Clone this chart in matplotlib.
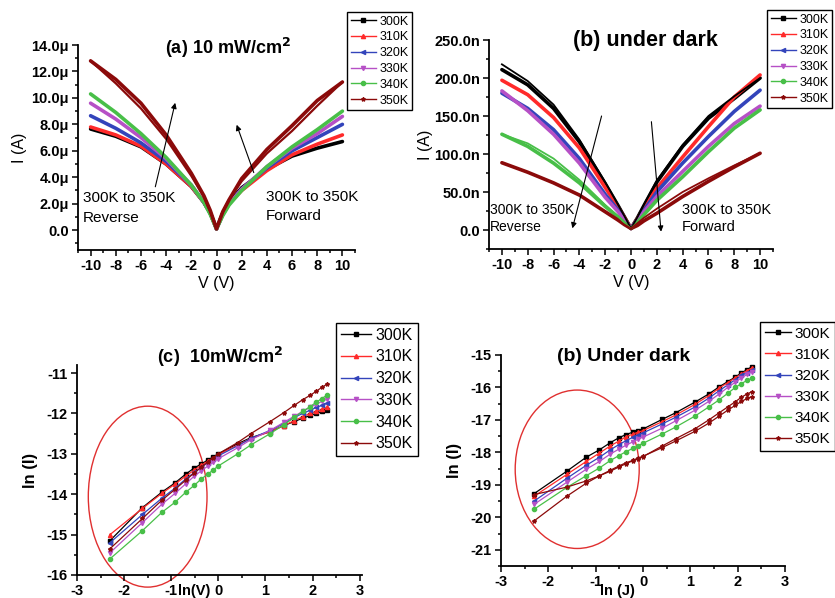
import matplotlib
matplotlib.use('Agg')
import matplotlib.pyplot as plt
from matplotlib.patches import Ellipse
from matplotlib.lines import Line2D
from matplotlib.ticker import MultipleLocator, FuncFormatter

plt.rcParams['font.family'] = ['Liberation Sans', 'DejaVu Sans']
plt.rcParams['font.weight'] = 'bold'
plt.rcParams['axes.unicode_minus'] = False

# ---------------- data ----------------
temps = ['300K', '310K', '320K', '330K', '340K', '350K']
colors = ['#000000', '#ff2a2a', '#3344bb', '#b650c6', '#48bf48', '#8b0a0a']
markers = ['s', '^', '<', 'v', 'o', '*']

V = [-10, -8, -6, -4, -2, -1, -0.5, 0, 0.5, 1, 2, 4, 6, 8, 10]

# (a) current under 10 mW/cm2, in microamps
Ia_300 = [7.65, 7.1, 6.3, 5.0, 3.3, 2.1, 1.3, 0.1, 1.3, 2.1, 3.2, 4.6, 5.6, 6.2, 6.7]
Ia_310 = [7.8, 7.2, 6.35, 5.0, 3.3, 2.1, 1.3, 0.1, 1.2, 2.0, 3.0, 4.5, 5.7, 6.5, 7.2]
Ia_320 = [8.65, 7.7, 6.6, 5.2, 3.4, 2.1, 1.3, 0.1, 1.2, 2.0, 3.1, 4.7, 6.0, 7.0, 8.0]
Ia_330 = [9.6, 8.4, 7.0, 5.4, 3.4, 2.1, 1.3, 0.1, 1.2, 2.0, 3.1, 4.8, 6.2, 7.3, 8.6]
Ia_340 = [10.3, 8.9, 7.3, 5.5, 3.4, 2.1, 1.2, 0.1, 1.1, 1.9, 3.0, 4.8, 6.3, 7.6, 9.0]
Ia_350 = [12.8, 11.4, 9.6, 7.2, 4.3, 2.6, 1.5, 0.1, 1.4, 2.3, 3.9, 6.1, 7.9, 9.8, 11.2]
Ia_350_ret = [12.8, 11.1, 9.2, 6.9, 4.1, 2.5, 1.4, 0.1, 1.4, 2.3, 3.7, 5.8, 7.5, 9.4, 11.2]

# (b) dark current, in nanoamps
Ib_300 = [211, 191, 160, 116, 61, 32, 17, 2, 16, 32, 63, 110, 147, 173, 200]
Ib_300_ret = [218, 196, 165, 119, 63, 33, 18, 2, 17, 33, 65, 112, 150, 176, 200]
Ib_310 = [197, 178, 148, 108, 56, 30, 16, 2, 15, 28, 55, 96, 136, 175, 204]
Ib_320 = [180, 160, 132, 94, 47, 26, 14, 2, 14, 26, 50, 88, 123, 156, 184]
Ib_330 = [183, 157, 126, 88, 43, 24, 13, 2, 12, 24, 44, 77, 110, 140, 163]
Ib_340 = [126, 110, 88, 62, 31, 17, 9, 2, 10, 20, 39, 70, 103, 134, 158]
Ib_340_ret = [126, 114, 94, 66, 33, 18, 9, 2, 10, 20, 39, 70, 103, 134, 158]
Ib_350 = [88.5, 76, 62, 46, 24, 13, 7, 2, 6, 12, 22, 44, 64, 83, 101]
Ib_350_ret = [88.5, 76, 62, 46, 24, 13, 7, 2, 9, 16, 28, 50, 68, 85, 101]

# (c), (d) log-log plots
lnV = [-2.30, -1.61, -1.20, -0.92, -0.69, -0.51, -0.36, -0.22, -0.11, 0.0,
       0.41, 0.69, 1.10, 1.39, 1.61, 1.79, 1.95, 2.08, 2.20, 2.30]

lnIc_300 = [-15.15, -14.33, -13.95, -13.72, -13.50, -13.35, -13.25, -13.15, -13.08, -13.00,
            -12.75, -12.60, -12.45, -12.30, -12.20, -12.12, -12.05, -12.00, -11.95, -11.92]
lnIc_310 = [-15.00, -14.35, -13.98, -13.75, -13.55, -13.40, -13.28, -13.18, -13.10, -13.02,
            -12.78, -12.62, -12.45, -12.30, -12.18, -12.08, -12.00, -11.95, -11.90, -11.85]
lnIc_320 = [-15.20, -14.50, -14.10, -13.85, -13.62, -13.46, -13.33, -13.22, -13.13, -13.05,
            -12.80, -12.62, -12.42, -12.25, -12.10, -12.00, -11.92, -11.85, -11.80, -11.75]
lnIc_330 = [-15.45, -14.70, -14.25, -13.98, -13.74, -13.55, -13.42, -13.30, -13.20, -13.12,
            -12.85, -12.65, -12.42, -12.22, -12.07, -11.95, -11.85, -11.77, -11.70, -11.65]
lnIc_340 = [-15.60, -14.90, -14.45, -14.20, -13.95, -13.78, -13.62, -13.50, -13.40, -13.30,
            -13.00, -12.78, -12.50, -12.28, -12.10, -11.95, -11.83, -11.72, -11.63, -11.55]
lnIc_350 = [-15.35, -14.60, -14.15, -13.88, -13.65, -13.47, -13.33, -13.20, -13.10, -13.00,
            -12.72, -12.50, -12.20, -11.98, -11.80, -11.66, -11.55, -11.45, -11.35, -11.28]

lnId_300 = [-19.27, -18.58, -18.15, -17.92, -17.70, -17.55, -17.45, -17.38, -17.33, -17.28,
            -16.98, -16.78, -16.45, -16.20, -15.98, -15.82, -15.68, -15.55, -15.45, -15.36]
lnId_310 = [-19.35, -18.68, -18.28, -18.02, -17.80, -17.65, -17.52, -17.44, -17.38, -17.33,
            -17.05, -16.85, -16.52, -16.25, -16.02, -15.85, -15.70, -15.58, -15.48, -15.40]
lnId_320 = [-19.50, -18.80, -18.40, -18.15, -17.92, -17.76, -17.64, -17.54, -17.47, -17.40,
            -17.12, -16.92, -16.60, -16.33, -16.10, -15.92, -15.76, -15.63, -15.54, -15.47]
lnId_330 = [-19.60, -18.92, -18.52, -18.28, -18.05, -17.90, -17.78, -17.68, -17.60, -17.53,
            -17.25, -17.03, -16.70, -16.43, -16.20, -16.00, -15.84, -15.70, -15.60, -15.52]
lnId_340 = [-19.75, -19.08, -18.72, -18.48, -18.25, -18.10, -17.98, -17.88, -17.80, -17.72,
            -17.43, -17.22, -16.88, -16.60, -16.38, -16.18, -16.00, -15.88, -15.78, -15.72]
lnId_350 = [-20.11, -19.35, -18.95, -18.72, -18.55, -18.42, -18.32, -18.25, -18.18, -18.12,
            -17.85, -17.65, -17.35, -17.10, -16.88, -16.70, -16.55, -16.43, -16.34, -16.28]
lnId_350_b = [-19.30, -19.07, -18.88, -18.72, -18.58, -18.45, -18.35, -18.26, -18.19, -18.13,
              -17.80, -17.58, -17.27, -17.00, -16.78, -16.60, -16.44, -16.30, -16.20, -16.13]

Ia = [Ia_300, Ia_310, Ia_320, Ia_330, Ia_340, Ia_350]
Ib = [Ib_300, Ib_310, Ib_320, Ib_330, Ib_340, Ib_350]
lnIc = [lnIc_300, lnIc_310, lnIc_320, lnIc_330, lnIc_340, lnIc_350]
lnId = [lnId_300, lnId_310, lnId_320, lnId_330, lnId_340, lnId_350]

W, H = 835, 598
fig = plt.figure(figsize=(W / 100, H / 100), dpi=100)


def rect(l, t, r, b):
    return [l / W, 1 - b / H, (r - l) / W, (b - t) / H]


def style(ax):
    for s in ['top', 'right']:
        ax.spines[s].set_visible(False)
    for s in ['left', 'bottom']:
        ax.spines[s].set_linewidth(1.3)
    ax.tick_params(which='both', direction='out', width=1.1, pad=2)
    ax.tick_params(which='major', length=4.5, labelsize=10.5)
    ax.tick_params(which='minor', length=2.5)


def handles(ms=3):
    return [Line2D([], [], color=c, marker=m, ms=ms, lw=1.0) for c, m in zip(colors, markers)]


def legend(ax, l, t, size, spacing, hl, tp=0.3):
    leg = ax.legend(handles(), temps, loc='upper left', bbox_to_anchor=(l / W, 1 - t / H),
                    bbox_transform=fig.transFigure, frameon=True, fancybox=False,
                    edgecolor='black', framealpha=1,
                    prop={'size': size, 'weight': 'normal'}, handlelength=hl,
                    handletextpad=tp, labelspacing=spacing, borderpad=0.3,
                    borderaxespad=0)
    leg.get_frame().set_linewidth(1.0)


arrow_kw = dict(arrowstyle='-|>', color='black', lw=0.8, mutation_scale=8,
                shrinkA=0, shrinkB=0)

# ---------------- (a) ----------------
axa = fig.add_axes(rect(78, 45, 355, 250))
for y, c in zip(Ia, colors):
    axa.plot(V, y, color=c, lw=2.6, solid_capstyle='round')
axa.plot(V, Ia_350_ret, color=colors[5], lw=1.6)
axa.set_xlim(-11, 11)
axa.set_ylim(-1.5, 14)
axa.xaxis.set_major_locator(MultipleLocator(2))
axa.xaxis.set_minor_locator(MultipleLocator(1))
axa.yaxis.set_major_locator(MultipleLocator(2))
axa.yaxis.set_minor_locator(MultipleLocator(1))
axa.yaxis.set_major_formatter(FuncFormatter(lambda v, p: '0.0' if abs(v) < 1e-9 else f'{v:.1f}\u03bc'))
axa.xaxis.set_major_formatter(FuncFormatter(lambda v, p: f'{v:.0f}'))
style(axa)
axa.set_xlabel('V (V)', fontsize=11.5, fontweight='normal', labelpad=2)
axa.set_ylabel('I (A)', fontsize=11.5, fontweight='normal', labelpad=3)
axa.set_title('(a) 10 mW/cm$^\\mathbf{2}$', fontsize=13, fontweight='bold', x=0.54, y=0.915)
axa.annotate('', xy=(-3.28, 9.63), xytext=(-4.86, 3.28), arrowprops=arrow_kw)
axa.annotate('', xy=(1.6, 7.97), xytext=(2.96, 4.35), arrowprops=arrow_kw)
axa.text(-10.6, 2.95, '300K to 350K\nReverse', fontsize=11, fontweight='normal',
         va='top', ha='left', linespacing=1.5)
axa.text(3.9, 3.05, '300K to 350K\nForward', fontsize=11, fontweight='normal',
         va='top', ha='left', linespacing=1.45)
legend(axa, 347, 12, 9, 0.3, 2.0)

# ---------------- (b) ----------------
axb = fig.add_axes(rect(489, 40, 773, 249))
for y, c in zip(Ib, colors):
    axb.plot(V, y, color=c, lw=2.6, solid_capstyle='round')
axb.plot(V, Ib_300_ret, color=colors[0], lw=1.3)
axb.plot(V, Ib_340_ret, color=colors[4], lw=1.3)
axb.plot(V, Ib_350_ret, color=colors[5], lw=1.3)
axb.set_xlim(-11, 11)
axb.set_ylim(-25, 250)
axb.xaxis.set_major_locator(MultipleLocator(2))
axb.xaxis.set_minor_locator(MultipleLocator(1))
axb.yaxis.set_major_locator(MultipleLocator(50))
axb.yaxis.set_minor_locator(MultipleLocator(25))
axb.yaxis.set_major_formatter(FuncFormatter(lambda v, p: '0.0' if abs(v) < 1e-9 else f'{v:.1f}n'))
axb.xaxis.set_major_formatter(FuncFormatter(lambda v, p: f'{v:.0f}'))
style(axb)
axb.set_xlabel('V (V)', fontsize=11.5, fontweight='normal', labelpad=2)
axb.set_ylabel('I (A)', fontsize=11.5, fontweight='normal', labelpad=1)
axb.set_title('(b) under dark', fontsize=15.5, fontweight='bold', x=0.55, y=0.93)
axb.annotate('', xy=(-4.54, 2.2), xytext=(-2.28, 150), arrowprops=arrow_kw)
axb.annotate('', xy=(2.33, -2.2), xytext=(1.58, 142.5), arrowprops=arrow_kw)
axb.text(-10.95, 36, '300K to 350K\nReverse', fontsize=10, fontweight='normal',
         va='top', ha='left', linespacing=1.3)
axb.text(3.95, 36, '300K to 350K\nForward', fontsize=10.5, fontweight='normal',
         va='top', ha='left', linespacing=1.3)
legend(axb, 767, 10, 9, 0.3, 2.0)

# ---------------- (c) ----------------
axc = fig.add_axes(rect(77, 365, 362, 575))
for y, c, m in zip(lnIc, colors, markers):
    axc.plot(lnV, y, color=c, lw=0.9, marker=m, ms=3)
axc.set_xlim(-3, 3.05)
axc.set_ylim(-16, -10.8)
axc.xaxis.set_major_locator(MultipleLocator(1))
axc.xaxis.set_minor_locator(MultipleLocator(0.5))
axc.yaxis.set_major_locator(MultipleLocator(1))
axc.yaxis.set_minor_locator(MultipleLocator(0.5))
axc.xaxis.set_major_formatter(FuncFormatter(lambda v, p: f'{v:.0f}'))
axc.yaxis.set_major_formatter(FuncFormatter(lambda v, p: f'{v:.0f}'))
style(axc)
axc.set_ylabel('ln (I)', fontsize=12, fontweight='bold', labelpad=6)
axc.set_title('(c)  10mW/cm$^\\mathbf{2}$', fontsize=13, fontweight='bold', x=0.5, y=0.97)
axc.add_patch(Ellipse((-1.50, -14.06), 2.52, 4.48, fill=False, ec='#e03030', lw=1.0, clip_on=False))
fig.text(178 / W, 1 - 584 / H, 'ln(V)', fontsize=10.5, fontweight='bold', va='top', ha='left')
legend(axc, 336, 323, 11.5, 0.42, 1.9)

# ---------------- (d) ----------------
axd = fig.add_axes(rect(501, 355, 785, 566))
for y, c, m in zip(lnId, colors, markers):
    axd.plot(lnV, y, color=c, lw=0.9, marker=m, ms=3)
axd.plot(lnV, lnId_350_b, color=colors[5], lw=0.9, marker=markers[5], ms=3)
axd.set_xlim(-3, 3)
axd.set_ylim(-21.5, -15)
axd.xaxis.set_major_locator(MultipleLocator(1))
axd.xaxis.set_minor_locator(MultipleLocator(0.5))
axd.yaxis.set_major_locator(MultipleLocator(1))
axd.yaxis.set_minor_locator(MultipleLocator(0.5))
axd.xaxis.set_major_formatter(FuncFormatter(lambda v, p: f'{v:.0f}'))
axd.yaxis.set_major_formatter(FuncFormatter(lambda v, p: f'{v:.0f}'))
style(axd)
axd.set_ylabel('ln (I)', fontsize=12, fontweight='bold', labelpad=6)
axd.set_title('(b) Under dark', fontsize=14, fontweight='bold', x=0.43, y=0.93)
axd.add_patch(Ellipse((-1.39, -18.52), 2.62, 4.88, fill=False, ec='#e03030', lw=1.0, clip_on=False))
fig.text(600 / W, 1 - 584 / H, 'ln (J)', fontsize=10.5, fontweight='bold', va='top', ha='left')
legend(axd, 760, 322, 11, 0.47, 1.7, 0.25)

fig.savefig('out.png', dpi=100)
